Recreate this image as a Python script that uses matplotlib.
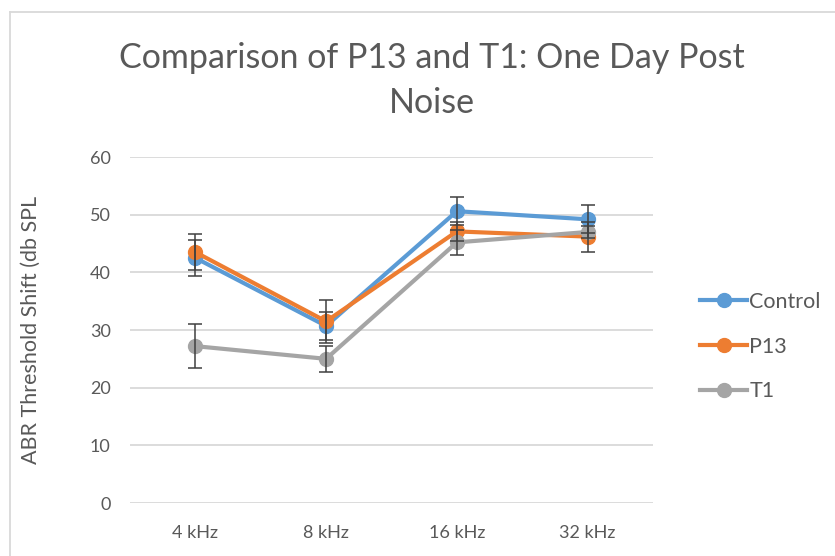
import numpy as np
import matplotlib.pyplot as plt
from matplotlib.lines import Line2D

plt.rcParams['font.family'] = ['Lato', 'DejaVu Sans']

freqs = ['4 kHz', '8 kHz', '16 kHz', '32 kHz']

control = [42.5, 30.7, 50.6, 49.2]
p13 = [43.5, 31.5, 47.1, 46.2]
t1 = [27.2, 25.0, 45.2, 47.0]

control_err = [3.1, 2.5, 2.4, 2.4]
p13_err = [3.1, 3.7, 1.6, 2.6]
t1_err = [3.8, 2.3, 2.2, 1.0]

series = [('Control', control, control_err, '#5B9BD5'),
          ('P13', p13, p13_err, '#ED7D31'),
          ('T1', t1, t1_err, '#A5A5A5')]

txt = '#595959'

fig = plt.figure(figsize=(8.35, 5.56), dpi=100)
ax = fig.add_axes([0.1557, 0.0953, 0.6263, 0.6223])

x = np.arange(len(freqs))
for i, (name, vals, err, col) in enumerate(series):
    ax.plot(x, vals, color=col, lw=3, marker='o', ms=10, zorder=3 + i, label=name)
    ax.errorbar(x, vals, yerr=err, fmt='none', ecolor='#404040', elinewidth=1.1,
                capsize=5, capthick=1.1, zorder=10)

ax.set_xlim(-0.5, 3.5)
ax.set_ylim(0, 60)
ax.set_yticks(range(0, 61, 10))
ax.set_xticks(x)
ax.set_xticklabels(freqs)
ax.tick_params(colors=txt, labelsize=13, length=0, pad=16)
ax.tick_params(axis='y', pad=14)
ax.grid(axis='y', color='#D9D9D9', lw=1.3)
ax.set_axisbelow(True)
for s in ax.spines.values():
    s.set_visible(False)

ax.set_ylabel('ABR Threshold Shift (db SPL', color=txt, fontsize=15.5, labelpad=26)
ax.yaxis.set_label_coords(-0.17, 0.5)

fig.text(0.517, 0.925, 'Comparison of P13 and T1: One Day Post\nNoise', ha='center', va='top',
         color=txt, fontsize=24.5, linespacing=1.5)

handles = [Line2D([], [], color=c, lw=3, marker='o', ms=10) for _, _, _, c in series]
fig.legend(handles, [s[0] for s in series], loc='upper left', bbox_to_anchor=(0.815, 0.51),
           frameon=False, fontsize=15.5, labelcolor=txt, handlelength=2.2, handletextpad=0.1,
           labelspacing=1.15)

# chart border (cropped at right and bottom)
fig.add_artist(Line2D([10 / 835, 10 / 835], [0, 1 - 12 / 556], transform=fig.transFigure,
                      color='#D9D9D9', lw=1.3))
fig.add_artist(Line2D([10 / 835, 1], [1 - 12 / 556, 1 - 12 / 556], transform=fig.transFigure,
                      color='#D9D9D9', lw=1.3))

fig.savefig('out.png', dpi=100)
